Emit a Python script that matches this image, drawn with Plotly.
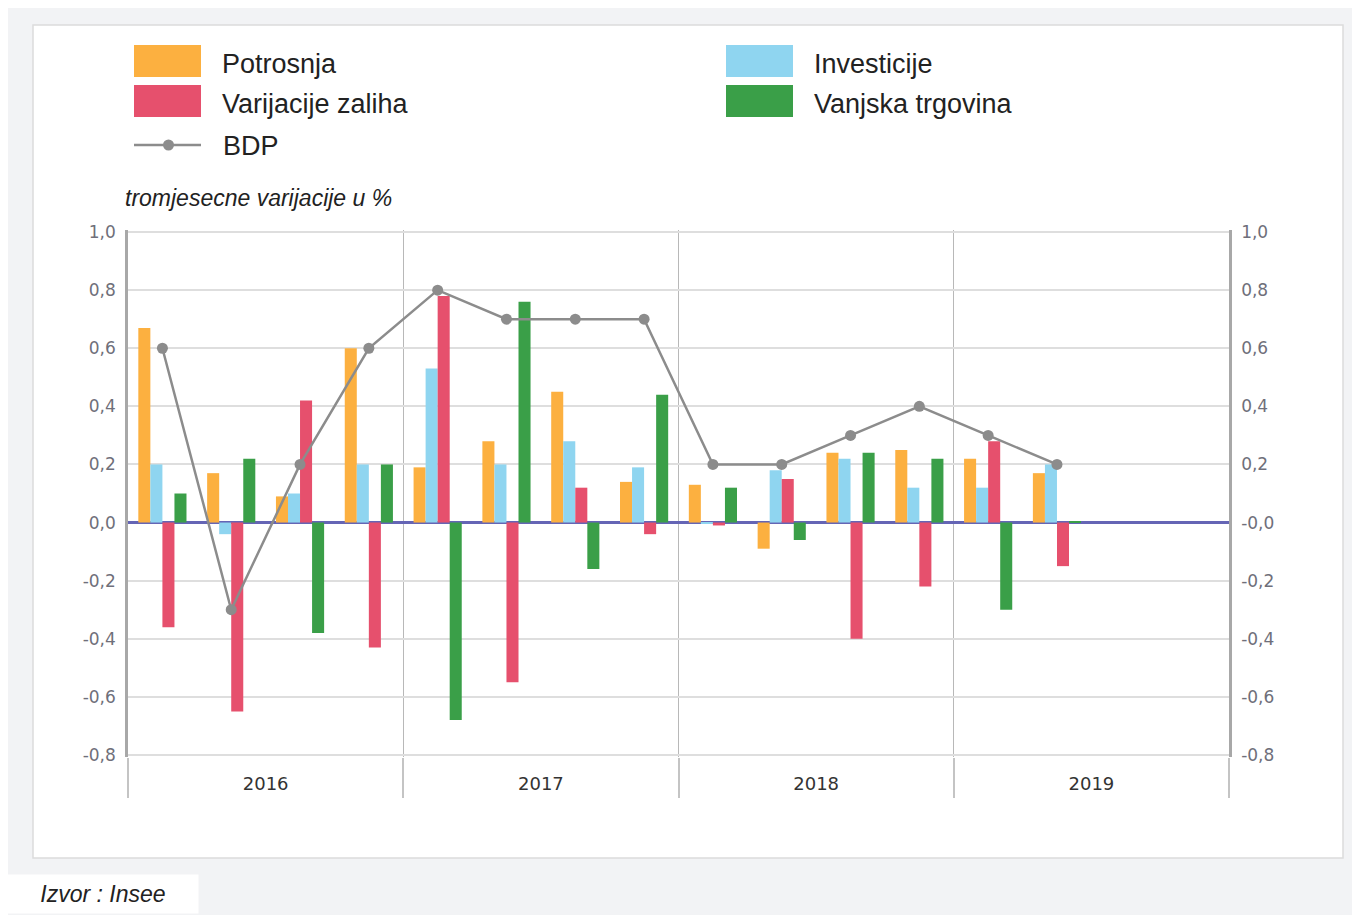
import plotly.graph_objects as go

# kvartali 2016Q1 .. 2019Q4 (zadnja dva bez podataka)
quarters = ["2016T1", "2016T2", "2016T3", "2016T4",
            "2017T1", "2017T2", "2017T3", "2017T4",
            "2018T1", "2018T2", "2018T3", "2018T4",
            "2019T1", "2019T2", "2019T3", "2019T4"]
years = ["2016", "2017", "2018", "2019"]

potrosnja = [0.67, 0.17, 0.09, 0.60, 0.19, 0.28, 0.45, 0.14, 0.13, -0.09, 0.24, 0.25, 0.22, 0.17, None, None]
investicije = [0.20, -0.04, 0.10, 0.20, 0.53, 0.20, 0.28, 0.19, -0.005, 0.18, 0.22, 0.12, 0.12, 0.20, None, None]
varijacije = [-0.36, -0.65, 0.42, -0.43, 0.78, -0.55, 0.12, -0.04, -0.01, 0.15, -0.40, -0.22, 0.28, -0.15, None, None]
vanjska = [0.10, 0.22, -0.38, 0.20, -0.68, 0.76, -0.16, 0.44, 0.12, -0.06, 0.24, 0.22, -0.30, 0.005, None, None]
bdp = [0.6, -0.3, 0.2, 0.6, 0.8, 0.7, 0.7, 0.7, 0.2, 0.2, 0.3, 0.4, 0.3, 0.2, None, None]

y_ticks = [1.0, 0.8, 0.6, 0.4, 0.2, 0.0, -0.2, -0.4, -0.6, -0.8]
left_labels = ["1,0", "0,8", "0,6", "0,4", "0,2", "0,0", "-0,2", "-0,4", "-0,6", "-0,8"]
right_labels = ["1,0", "0,8", "0,6", "0,4", "0,2", "-0,0", "-0,2", "-0,4", "-0,6", "-0,8"]

colors = {
    "Potrosnja": "#fcb040",
    "Investicije": "#8fd5f0",
    "Varijacije zaliha": "#e6506d",
    "Vanjska trgovina": "#3a9f48",
    "BDP": "#8c8c8c",
}

x = list(range(len(quarters)))

# stranica ima 8px margine u pregledniku
OFF = 8
W, H = 1360 - OFF, 915 - OFF
L, R, T, B = 128, 1229, 230, 757  # područje grafa u pikselima stranice
Y_RANGE = [-0.807, 1.007]


def px(xp):
    return (xp - L) / (R - L)


def py(yp):
    return (B - yp) / (B - T)


fig = go.Figure()
for name, vals in [("Potrosnja", potrosnja), ("Investicije", investicije),
                   ("Varijacije zaliha", varijacije), ("Vanjska trgovina", vanjska)]:
    fig.add_trace(go.Bar(x=x, y=vals, name=name, marker_color=colors[name],
                         marker_line_width=0, showlegend=False))

fig.add_trace(go.Scatter(
    x=x, y=bdp, name="BDP", mode="lines+markers",
    line=dict(color=colors["BDP"], width=2.5),
    marker=dict(size=11, color=colors["BDP"]),
    showlegend=False,
))
# nevidljivi trag za desnu os
fig.add_trace(go.Scatter(x=[x[0]], y=[None], yaxis="y2", showlegend=False, hoverinfo="skip"))

# okvir i ručna legenda
shapes = [
    dict(type="rect", xref="paper", yref="paper", layer="below",
         x0=px(33), x1=px(1343), y0=py(858), y1=py(25),
         fillcolor="white", line=dict(color="#dcdcdc", width=1.5)),
]
annotations = []
legend_font = dict(family="Liberation Sans", size=27, color="#222")
legend_items = [
    ("Potrosnja", 134, 61), ("Varijacije zaliha", 134, 101),
    ("Investicije", 726, 61), ("Vanjska trgovina", 726, 101),
]
for name, lx, ly in legend_items:
    shapes.append(dict(type="rect", xref="paper", yref="paper",
                       x0=px(lx), x1=px(lx + 67), y0=py(ly + 16), y1=py(ly - 16),
                       fillcolor=colors[name], line=dict(width=0)))
    annotations.append(dict(text=name, xref="paper", yref="paper", x=px(lx + 86), y=py(ly + 3),
                            xanchor="left", yanchor="middle", showarrow=False, font=legend_font))
shapes.append(dict(type="line", xref="paper", yref="paper",
                   x0=px(134), x1=px(201), y0=py(145), y1=py(145),
                   line=dict(color=colors["BDP"], width=2.5)))
shapes.append(dict(type="circle", xref="paper", yref="paper",
                   x0=px(163), x1=px(174), y0=py(150.5), y1=py(139.5),
                   fillcolor=colors["BDP"], line=dict(width=0)))
annotations.append(dict(text="BDP", xref="paper", yref="paper", x=px(221), y=py(146),
                        xanchor="left", yanchor="middle", showarrow=False, font=legend_font))
annotations.append(dict(text="<i>tromjesecne varijacije u %</i>", xref="paper", yref="paper",
                        x=px(123), y=py(198), xanchor="left", yanchor="middle", showarrow=False,
                        font=dict(family="Liberation Sans", size=23, color="#222")))
annotations.append(dict(text="<i>Izvor : Insee</i>", xref="paper", yref="paper",
                        x=px(7), y=py(894), xanchor="left", yanchor="middle", showarrow=False,
                        bgcolor="white", borderpad=6, width=178, align="center",
                        font=dict(family="Liberation Sans", size=23, color="#222")))

tick_font = dict(family="DejaVu Sans", size=17, color="#6f6f7a")

fig.update_layout(
    width=W, height=H,
    margin=dict(l=L - OFF, r=W - (R - OFF), t=T - OFF, b=H - (B - OFF)),
    paper_bgcolor="#f2f3f5",
    plot_bgcolor="white",
    barmode="group",
    bargap=0.3,
    bargroupgap=0,
    showlegend=False,
    shapes=shapes,
    annotations=annotations,
    xaxis=dict(
        range=[-0.5, len(quarters) - 0.5],
        tickvals=[1.5, 5.5, 9.5, 13.5],
        ticktext=years,
        ticks="outside", ticklen=10, tickcolor="rgba(0,0,0,0)",
        showgrid=False, zeroline=False, showline=False,
        tickfont=dict(family="DejaVu Sans", size=18, color="#333"),
        minor=dict(tick0=-0.5, dtick=4, ticks="outside", ticklen=40,
                   tickcolor="#c4c4c4", tickwidth=1.5,
                   showgrid=True, gridcolor="#b8b8b8", gridwidth=1.2),
    ),
    yaxis=dict(
        range=Y_RANGE,
        tickvals=y_ticks, ticktext=left_labels,
        showgrid=True, gridcolor="#dedede", gridwidth=2,
        zeroline=True, zerolinecolor="#6565b5", zerolinewidth=2.5,
        showline=True, linecolor="#a8a8a8", linewidth=2.5,
        ticks="", tickfont=tick_font, ticklabelstandoff=6,
    ),
    yaxis2=dict(
        range=Y_RANGE, overlaying="y", side="right",
        tickvals=y_ticks, ticktext=right_labels,
        showgrid=False, zeroline=False,
        showline=True, linecolor="#a8a8a8", linewidth=2.5,
        ticks="", tickfont=tick_font, ticklabelstandoff=6,
    ),
)

fig.write_html("out.html")
